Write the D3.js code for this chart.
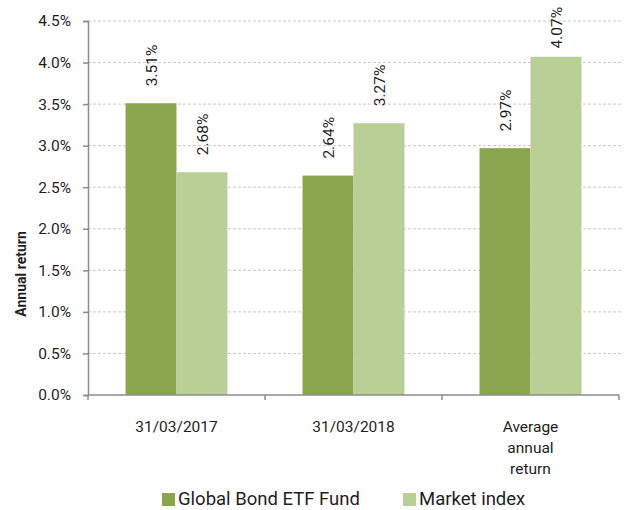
<!DOCTYPE html>
<html>
<head>
<meta charset="utf-8">
<script src="https://cdn.jsdelivr.net/npm/d3@7"></script>
<style>
  body { margin: 0; background: #fff; }
  text { font-family: Roboto, "Liberation Sans", Arial, sans-serif; fill: #1e1e1e; }
</style>
</head>
<body>
<div id="chart"></div>
<script>
// data
const categories = ["31/03/2017", "31/03/2018", "Average annual return"];
const seriesNames = ["Global Bond ETF Fund", "Market index"];
const fundValues = [0.0351, 0.0264, 0.0297];
const indexValues = [0.0268, 0.0327, 0.0407];
const yTicks = [0, 0.005, 0.01, 0.015, 0.02, 0.025, 0.03, 0.035, 0.04, 0.045];
const colors = ["#8ba54e", "#b9cf96"];

const W = 628, H = 510;
const margin = {top: 21, right: 9, bottom: 115, left: 88},
    width = W - margin.left - margin.right,
    height = H - margin.top - margin.bottom;

const svg = d3.select("#chart")
  .append("svg")
    .attr("width", W)
    .attr("height", H)
  .append("g")
    .attr("transform", `translate(${margin.left}, ${margin.top})`);

// scales
const x0 = d3.scaleBand()
  .domain(categories)
  .range([0, width])
  .padding(0);

const groupW = x0.bandwidth() * 0.576;
const x1 = d3.scaleBand()
  .domain(seriesNames)
  .range([(x0.bandwidth() - groupW) / 2, (x0.bandwidth() + groupW) / 2])
  .padding(0);

const y = d3.scaleLinear()
  .domain([0, 0.045])
  .range([height, 0]);

// gridlines
svg.append("g")
  .selectAll("line")
  .data(yTicks.filter(d => d > 0))
  .join("line")
    .attr("x1", 0)
    .attr("x2", width + 3)
    .attr("y1", d => y(d))
    .attr("y2", d => y(d))
    .attr("stroke", "#c9c9c9")
    .attr("stroke-width", 1)
    .attr("stroke-dasharray", "3,2");

// bars
const rows = categories.map((c, i) => ({cat: c, vals: [fundValues[i], indexValues[i]]}));

const groups = svg.append("g")
  .selectAll("g")
  .data(rows)
  .join("g")
    .attr("transform", d => `translate(${x0(d.cat)}, 0)`);

groups.selectAll("rect")
  .data(d => d.vals.map((v, j) => ({name: seriesNames[j], v: v, j: j})))
  .join("rect")
    .attr("x", d => x1(d.name))
    .attr("y", d => y(d.v))
    .attr("width", x1.bandwidth())
    .attr("height", d => height - y(d.v))
    .attr("fill", d => colors[d.j]);

// value labels (rotated)
groups.selectAll("text.val")
  .data(d => d.vals.map((v, j) => ({name: seriesNames[j], v: v})))
  .join("text")
    .attr("class", "val")
    .style("font-size", "15.5px")
    .attr("text-anchor", "start")
    .attr("dy", "0.36em")
    .text(d => (d.v * 100).toFixed(2) + "%")
    .each(function(d) {
      const len = this.getComputedTextLength();
      const cx = x1(d.name) + x1.bandwidth() / 2;
      let start = y(d.v) - 17;
      if (start - len < -14) start = len - 14;
      d3.select(this).attr("transform", `translate(${cx}, ${start}) rotate(-90)`);
    });

// y axis
const yAxis = svg.append("g")
  .call(d3.axisLeft(y).tickValues(yTicks).tickFormat(d => (d * 100).toFixed(1) + "%").tickSize(5).tickPadding(12));
yAxis.select(".domain").attr("stroke", "#8c8c8c").attr("stroke-width", 1.5);
yAxis.selectAll(".tick line").attr("stroke", "#8c8c8c").attr("stroke-width", 1.5);
yAxis.selectAll(".tick text").style("font-size", "15.5px").attr("fill", "#1e1e1e");

// x axis
const xAxis = svg.append("g")
  .attr("transform", `translate(0, ${height})`);
xAxis.append("line")
  .attr("x1", 0).attr("x2", width)
  .attr("y1", 0).attr("y2", 0)
  .attr("stroke", "#8c8c8c").attr("stroke-width", 1.5);
xAxis.selectAll("line.tk")
  .data(categories.map(c => x0(c)).concat([width]))
  .join("line")
    .attr("class", "tk")
    .attr("x1", d => d).attr("x2", d => d)
    .attr("y1", 0).attr("y2", 5)
    .attr("stroke", "#8c8c8c").attr("stroke-width", 1.5);

const catLines = {"Average annual return": ["Average", "annual", "return"]};
xAxis.selectAll("text.cat")
  .data(categories)
  .join("text")
    .attr("class", "cat")
    .attr("text-anchor", "middle")
    .attr("x", d => x0(d) + x0.bandwidth() / 2)
    .attr("y", 37)
    .style("font-size", "15.5px")
    .each(function(d) {
      const lines = catLines[d] || [d];
      const t = d3.select(this);
      lines.forEach((l, i) => {
        t.append("tspan")
          .attr("x", x0(d) + x0.bandwidth() / 2)
          .attr("dy", i === 0 ? 0 : 21)
          .text(l);
      });
    });

// y axis title
svg.append("text")
  .attr("transform", `translate(${26 - margin.left}, 253) rotate(-90)`)
  .attr("text-anchor", "middle")
  .style("font-size", "14px")
  .style("font-weight", "bold")
  .text("Annual return");

// legend (kept just inside the bottom edge)
const legend = svg.append("g")
  .attr("transform", `translate(0, ${H - margin.top - 5})`);
const legendX = [162 - margin.left, 403 - margin.left];
seriesNames.forEach((n, i) => {
  legend.append("rect")
    .attr("x", legendX[i]).attr("y", -12)
    .attr("width", 13).attr("height", 13)
    .attr("fill", colors[i]);
  legend.append("text")
    .attr("x", legendX[i] + 16).attr("y", 0)
    .style("font-size", "18.5px")
    .text(n);
});
</script>
</body>
</html>
